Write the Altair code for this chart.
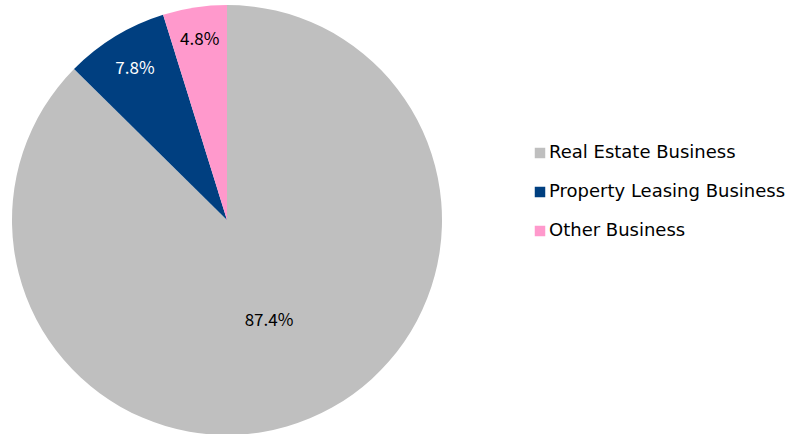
import altair as alt
import pandas as pd

categories = ["Real Estate Business", "Property Leasing Business", "Other Business"]
values = [87.4, 7.8, 4.8]
colors = ["#BFBFBF", "#003F80", "#FF99CC"]
label_colors = ["#000000", "#FFFFFF", "#000000"]
label_radius = [109, 177, 182]

df = pd.DataFrame({
    "category": categories,
    "value": values,
    "order": list(range(len(categories))),
    "label": [f"{v:.1f}%" for v in values],
})

FONT = "Noto Sans CJK JP"
LEGEND_FONT = "DejaVu Sans"
CX, CY, R = 227, 220, 215

base = alt.Chart(df).encode(
    theta=alt.Theta("value:Q", stack=True),
    order=alt.Order("order:Q"),
)

pie = base.mark_arc(outerRadius=R, x=CX, y=CY).encode(
    color=alt.Color(
        "category:N",
        scale=alt.Scale(domain=categories, range=colors),
        sort=categories,
        legend=alt.Legend(
            title=None,
            orient="none",
            legendX=531,
            legendY=144,
            symbolType="square",
            symbolSize=110,
            symbolStrokeWidth=0,
            labelFont=LEGEND_FONT,
            labelFontSize=18,
            labelColor="#000000",
            labelLimit=0,
            rowPadding=21,
            labelOffset=0,
        ),
    )
)

layers = [pie]
for cat, lc, lr in zip(categories, label_colors, label_radius):
    layers.append(
        base.mark_text(
            x=CX, y=CY, radius=lr, font=FONT, fontSize=17, color=lc,
            align="center", baseline="middle",
        ).encode(
            text="label:N",
            opacity=alt.condition(alt.datum.category == cat, alt.value(1), alt.value(0)),
        )
    )

chart = alt.layer(*layers).properties(
    width=787, height=434, padding=0, autosize=alt.AutoSizeParams(type="none")
).configure_view(stroke=None).configure(background="#FFFFFF")

chart.save("out.html", embed_options={"renderer": "svg", "actions": False})
